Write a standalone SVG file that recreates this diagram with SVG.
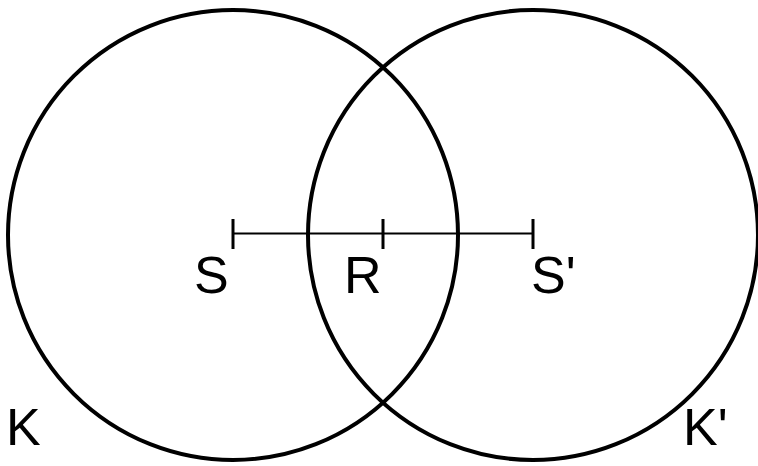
<svg xmlns="http://www.w3.org/2000/svg" width="758" height="466" viewBox="0 0 758 466">
<style>
.circ{fill:none;stroke:#000;stroke-width:4}
.seg{fill:none;stroke:#000;stroke-width:2}
.tick{fill:none;stroke:#000;stroke-width:3}
.lbl{font-family:"Liberation Sans",Arial,sans-serif;font-size:52px;fill:#000}
</style>
<rect width="758" height="466" fill="#fff"/>
<g id="K"><circle class="circ" cx="233" cy="235" r="225"/><text class="lbl" x="6" y="445">K</text></g>
<g id="Kp"><circle class="circ" cx="533" cy="235" r="225"/><text class="lbl" x="683" y="445">K'</text></g>
<g id="connectors">
<line class="seg" x1="233" y1="233.5" x2="533" y2="233.5"/>
</g>
<g id="S"><line class="tick" x1="233" y1="219" x2="233" y2="249"/><text class="lbl" x="194" y="293">S</text></g>
<g id="R"><line class="tick" x1="383" y1="219" x2="383" y2="249"/><text class="lbl" x="344" y="293">R</text></g>
<g id="Sp"><line class="tick" x1="533" y1="219" x2="533" y2="249"/><text class="lbl" x="531" y="293">S'</text></g>
</svg>
